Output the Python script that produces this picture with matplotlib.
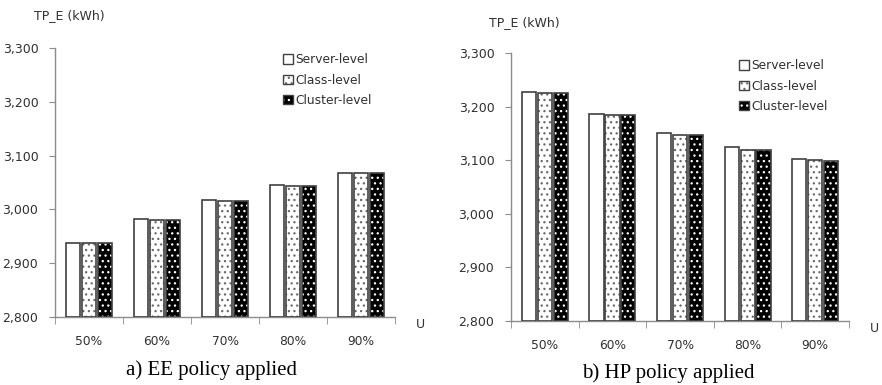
import matplotlib
matplotlib.use("Agg")
import matplotlib.pyplot as plt
import numpy as np
from matplotlib.patches import Patch

# ---- data -------------------------------------------------------------
categories = ["50%", "60%", "70%", "80%", "90%"]
series_names = ["Server-level", "Class-level", "Cluster-level"]

ee_server = [2938, 2983, 3018, 3046, 3068]
ee_class = [2937, 2981, 3016, 3044, 3067]
ee_cluster = [2937, 2981, 3016, 3044, 3067]

hp_server = [3227, 3186, 3151, 3125, 3103]
hp_class = [3226, 3184, 3148, 3119, 3100]
hp_cluster = [3226, 3184, 3148, 3119, 3098]

y_ticks = [2800, 2900, 3000, 3100, 3200, 3300]
y_tick_labels = ["2,800", "2,900", "3,000", "3,100", "3,200", "3,300"]
y_label = "TP_E (kWh)"
x_label = "U"
captions = ["a) EE policy applied", "b) HP policy applied"]

# ---- styling ----------------------------------------------------------
TEXT = "#303030"
AXIS = "#8c8c8c"
EDGE = "#404040"
TICK_FONT = ["DejaVu Sans"]
styles = [
    dict(face="white", hatch=None, hcolor=None),
    dict(face="white", hatch="...", hcolor="#6a6a6a"),
    dict(face="black", hatch="...", hcolor="white"),
]
plt.rcParams["hatch.linewidth"] = 0.9

fig = plt.figure(figsize=(8.82, 3.85), dpi=100)
ax_a = fig.add_axes([0.0624, 0.1766, 0.3855, 0.6987])
ax_b = fig.add_axes([0.5794, 0.1662, 0.3832, 0.6953])

bar_step = 0.235
bar_w = 0.21


def draw_bars(ax, values_list):
    x = np.arange(len(categories))
    offsets = [-bar_step, 0.0, bar_step]
    for vals, off, st in zip(values_list, offsets, styles):
        heights = np.array(vals) - y_ticks[0]
        if st["hatch"]:
            ax.bar(x + off, heights, bar_w, bottom=y_ticks[0], color=st["face"],
                   hatch=st["hatch"], edgecolor=st["hcolor"], linewidth=0, zorder=2)
        else:
            ax.bar(x + off, heights, bar_w, bottom=y_ticks[0], color=st["face"],
                   linewidth=0, zorder=2)
        ax.bar(x + off, heights, bar_w, bottom=y_ticks[0], fill=False,
               edgecolor=EDGE, linewidth=1.2, zorder=3)


def style_axes(ax, legend_anchor, u_pos, ylab_pos, caption, cap_pos):
    n = len(categories)
    ax.set_xlim(-0.5, n - 0.5)
    ax.set_ylim(y_ticks[0], y_ticks[-1])
    for s in ("top", "right"):
        ax.spines[s].set_visible(False)
    for s in ("left", "bottom"):
        ax.spines[s].set_color(AXIS)
        ax.spines[s].set_linewidth(1.0)
    ax.set_yticks(y_ticks)
    ax.set_yticklabels(y_tick_labels, fontsize=9, color=TEXT, family=TICK_FONT)
    ax.tick_params(axis="y", length=4, color=AXIS, pad=8)
    ax.set_xticks(np.arange(n))
    ax.set_xticklabels(categories, fontsize=8.8, color=TEXT, family=TICK_FONT)
    ax.tick_params(axis="x", which="major", length=0, pad=13)
    ax.set_xticks(np.arange(n + 1) - 0.5, minor=True)
    ax.tick_params(axis="x", which="minor", length=5, color=AXIS)

    handles = []
    for st in styles:
        if st["hatch"]:
            handles.append((Patch(facecolor=st["face"], hatch=st["hatch"],
                                  edgecolor=st["hcolor"], linewidth=0),
                            Patch(fill=False, edgecolor=EDGE, linewidth=1.0)))
        else:
            handles.append(Patch(facecolor=st["face"], edgecolor=EDGE, linewidth=1.0))
    ax.legend(handles, series_names, loc="upper left", bbox_to_anchor=legend_anchor,
              frameon=False, handlelength=0.8, handleheight=0.8,
              handletextpad=0.25, labelspacing=0.6, borderpad=0, borderaxespad=0,
              labelcolor=TEXT, prop={"family": TICK_FONT, "size": 8.8})

    fig.text(u_pos[0], u_pos[1], x_label, fontsize=9, color=TEXT,
             family=TICK_FONT, ha="center", va="center")
    fig.text(ylab_pos[0], ylab_pos[1], y_label, fontsize=9, color=TEXT,
             family=TICK_FONT, ha="left", va="center")
    fig.text(cap_pos[0], cap_pos[1], caption, fontsize=15, color="black",
             family=["Liberation Serif"], ha="center", va="center")


draw_bars(ax_a, [ee_server, ee_class, ee_cluster])
draw_bars(ax_b, [hp_server, hp_class, hp_cluster])

style_axes(ax_a, (0.67, 0.98), (420 / 882, 1 - 324 / 385), (34 / 882, 1 - 16 / 385),
           captions[0], (212 / 882, 1 - 370 / 385))
style_axes(ax_b, (0.674, 0.978), (874 / 882, 1 - 328 / 385), (489 / 882, 1 - 23 / 385),
           captions[1], (668 / 882, 1 - 373 / 385))

fig.savefig("out.png", dpi=100)
